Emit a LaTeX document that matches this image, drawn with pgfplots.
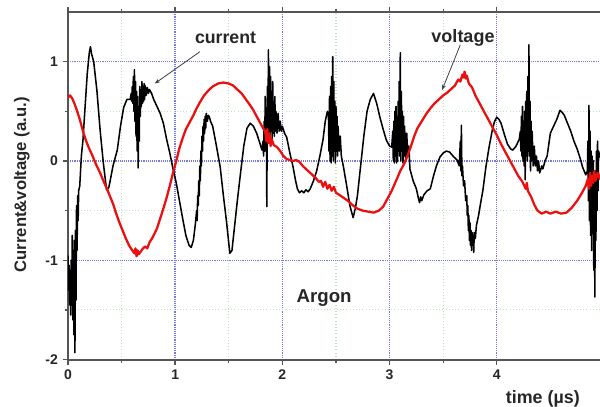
\documentclass[border=0pt]{standalone}
\usepackage{fontspec}
\setmainfont{Liberation Sans}
\usepackage{pgfplots}
\pgfplotsset{compat=1.18}
\usetikzlibrary{arrows.meta}

\definecolor{axisgray}{RGB}{85,85,85}
\definecolor{gridblue}{RGB}{120,120,225}
\definecolor{gridgreen}{RGB}{185,230,185}
\definecolor{vred}{RGB}{235,15,15}

% current (black)
\pgfplotstableread{
x y
0.000 -0.95
0.005 -1.30
0.010 -1.05
0.015 -1.45
0.020 -1.10
0.025 -1.55
0.030 -1.00
0.035 -1.35
0.040 -0.75
0.045 -1.60
0.050 -0.90
0.055 -1.75
0.060 -0.80
0.065 -1.93
0.070 -0.70
0.075 -1.40
0.080 -0.45
0.085 -0.90
0.090 -0.35
0.095 -0.60
0.100 -0.30
0.110 -0.25
0.125 0.05
0.140 0.21
0.160 0.55
0.180 0.88
0.200 1.10
0.210 1.15
0.220 1.08
0.240 1.00
0.270 0.71
0.300 0.31
0.330 -0.02
0.360 -0.29
0.380 -0.27
0.390 -0.22
0.420 -0.05
0.460 0.11
0.490 0.35
0.520 0.54
0.550 0.62
0.580 0.62
0.590 0.68
0.595 0.60
0.600 0.75
0.605 0.58
0.610 0.85
0.615 0.50
0.620 0.92
0.625 0.40
0.630 0.80
0.635 0.25
0.640 0.70
0.645 0.10
0.650 0.65
0.655 -0.07
0.660 0.55
0.665 0.20
0.670 0.75
0.675 0.45
0.680 0.70
0.685 0.55
0.690 0.80
0.695 0.58
0.700 0.72
0.705 0.60
0.710 0.78
0.715 0.62
0.720 0.76
0.730 0.66
0.740 0.74
0.750 0.68
0.760 0.72
0.780 0.68
0.800 0.62
0.830 0.55
0.860 0.48
0.890 0.38
0.920 0.22
0.950 0.08
0.980 -0.08
1.010 -0.22
1.040 -0.40
1.070 -0.58
1.100 -0.75
1.130 -0.85
1.150 -0.87
1.170 -0.80
1.190 -0.62
1.200 -0.50
1.205 -0.60
1.210 -0.35
1.215 -0.45
1.220 -0.20
1.225 -0.35
1.230 -0.05
1.235 -0.20
1.240 0.10
1.245 -0.05
1.250 0.25
1.255 0.10
1.260 0.35
1.265 0.20
1.270 0.42
1.275 0.28
1.280 0.45
1.285 0.33
1.290 0.48
1.300 0.40
1.310 0.46
1.320 0.44
1.330 0.40
1.350 0.35
1.380 0.18
1.420 -0.06
1.450 -0.35
1.480 -0.62
1.510 -0.93
1.530 -0.90
1.550 -0.70
1.580 -0.40
1.610 -0.12
1.640 0.15
1.670 0.33
1.700 0.38
1.730 0.35
1.760 0.28
1.790 0.18
1.810 0.11
1.820 0.20
1.825 0.05
1.830 0.40
1.835 0.10
1.840 0.65
1.845 0.15
1.850 0.50
1.855 -0.46
1.860 0.75
1.865 0.20
1.870 1.12
1.875 0.25
1.880 0.95
1.885 0.18
1.890 0.85
1.895 0.30
1.900 0.70
1.905 0.22
1.910 0.80
1.915 0.28
1.920 0.60
1.925 0.25
1.930 0.65
1.935 0.30
1.940 0.50
1.950 0.28
1.960 0.48
1.970 0.30
1.980 0.40
1.990 0.30
2.000 0.35
2.020 0.28
2.040 0.24
2.070 0.08
2.100 -0.06
2.120 -0.18
2.140 -0.28
2.160 -0.32
2.180 -0.30
2.200 -0.32
2.220 -0.29
2.240 -0.31
2.260 -0.28
2.290 -0.20
2.320 -0.10
2.350 0.05
2.380 0.22
2.400 0.40
2.420 0.50
2.430 0.45
2.435 0.10
2.440 0.65
2.445 0.00
2.450 0.75
2.455 -0.02
2.460 0.85
2.465 0.05
2.470 1.05
2.475 0.00
2.480 0.80
2.485 0.10
2.490 0.60
2.495 -0.02
2.500 0.55
2.505 0.10
2.510 0.45
2.515 0.05
2.520 0.35
2.530 0.10
2.540 0.25
2.550 0.05
2.570 -0.06
2.600 -0.25
2.630 -0.45
2.660 -0.57
2.680 -0.48
2.700 -0.35
2.730 -0.05
2.760 0.25
2.790 0.50
2.820 0.62
2.850 0.68
2.880 0.58
2.910 0.44
2.940 0.32
2.970 0.21
3.000 0.15
3.020 0.14
3.030 0.30
3.035 0.00
3.040 0.40
3.045 -0.02
3.050 0.50
3.055 0.05
3.060 0.55
3.065 -0.02
3.070 0.45
3.075 0.00
3.080 0.60
3.085 0.10
3.090 0.80
3.095 0.05
3.100 1.09
3.105 0.00
3.110 0.70
3.115 0.10
3.120 0.50
3.125 -0.02
3.130 0.45
3.135 0.05
3.140 0.35
3.150 0.00
3.160 0.28
3.170 0.05
3.180 0.15
3.190 -0.08
3.220 -0.20
3.250 -0.28
3.270 -0.38
3.280 -0.42
3.290 -0.36
3.300 -0.40
3.320 -0.34
3.350 -0.30
3.380 -0.28
3.410 -0.15
3.440 -0.04
3.470 0.04
3.500 0.08
3.530 0.10
3.560 0.09
3.600 0.04
3.630 0.01
3.650 -0.05
3.660 0.20
3.665 -0.10
3.670 0.36
3.675 -0.15
3.680 -0.05
3.690 -0.25
3.700 -0.20
3.710 -0.40
3.720 -0.35
3.725 -0.55
3.730 -0.45
3.735 -0.70
3.740 -0.55
3.745 -0.80
3.750 -0.62
3.755 -0.85
3.760 -0.70
3.765 -0.90
3.770 -0.72
3.775 -0.82
3.780 -0.75
3.785 -0.92
3.790 -0.72
3.800 -0.78
3.810 -0.65
3.830 -0.55
3.850 -0.42
3.870 -0.30
3.900 -0.05
3.930 0.15
3.960 0.32
3.980 0.40
4.000 0.44
4.020 0.42
4.040 0.38
4.070 0.27
4.100 0.17
4.130 0.12
4.150 0.11
4.180 0.15
4.210 0.22
4.220 0.30
4.225 0.10
4.230 0.45
4.235 0.05
4.240 0.55
4.245 0.00
4.250 0.40
4.255 -0.05
4.260 0.50
4.265 -0.19
4.270 0.60
4.275 0.05
4.280 0.70
4.285 0.00
4.290 0.85
4.295 0.10
4.300 1.17
4.305 0.05
4.310 0.60
4.315 -0.10
4.320 0.40
4.325 0.00
4.330 0.30
4.340 -0.05
4.350 0.15
4.360 -0.05
4.370 0.05
4.380 -0.10
4.390 0.00
4.400 -0.12
4.420 -0.05
4.430 -0.08
4.450 0.00
4.470 0.05
4.500 0.28
4.530 0.35
4.560 0.42
4.590 0.51
4.610 0.49
4.630 0.46
4.660 0.38
4.690 0.30
4.720 0.20
4.750 0.12
4.780 0.02
4.800 -0.06
4.830 -0.14
4.845 -0.10
4.850 0.20
4.855 -0.40
4.860 0.56
4.865 -0.60
4.870 0.30
4.875 -0.75
4.880 0.10
4.885 -0.90
4.890 0.05
4.895 -0.70
4.900 0.00
4.905 -1.10
4.910 -0.20
4.915 -1.37
4.920 -0.10
4.925 -0.80
4.930 0.10
4.935 -0.50
4.940 0.20
4.945 -0.30
4.950 0.10
4.960 0.05
4.980 0.02
5.000 0.00
}\current

% voltage (red)
\pgfplotstableread{
x y
0.00 0.64
0.02 0.66
0.04 0.63
0.06 0.58
0.08 0.52
0.11 0.42
0.14 0.30
0.17 0.20
0.20 0.12
0.23 0.05
0.26 -0.03
0.30 -0.12
0.33 -0.20
0.36 -0.27
0.39 -0.35
0.42 -0.43
0.45 -0.53
0.48 -0.62
0.51 -0.70
0.54 -0.78
0.57 -0.85
0.60 -0.90
0.62 -0.93
0.63 -0.88
0.64 -0.96
0.65 -0.90
0.66 -0.94
0.68 -0.91
0.70 -0.88
0.72 -0.86
0.74 -0.88
0.76 -0.82
0.79 -0.77
0.83 -0.68
0.86 -0.58
0.89 -0.48
0.92 -0.37
0.95 -0.25
0.98 -0.12
1.01 0.00
1.04 0.13
1.07 0.23
1.10 0.32
1.14 0.40
1.17 0.46
1.20 0.53
1.23 0.59
1.27 0.66
1.31 0.71
1.35 0.75
1.40 0.78
1.45 0.79
1.50 0.78
1.54 0.76
1.58 0.72
1.62 0.68
1.66 0.62
1.70 0.56
1.73 0.51
1.76 0.45
1.79 0.39
1.82 0.33
1.84 0.30
1.85 0.20
1.86 0.32
1.87 0.18
1.88 0.28
1.89 0.15
1.90 0.22
1.92 0.16
1.95 0.14
1.98 0.10
2.01 0.05
2.04 0.02
2.07 0.01
2.10 0.00
2.13 0.01
2.16 -0.01
2.19 -0.05
2.22 -0.08
2.25 -0.11
2.28 -0.14
2.31 -0.17
2.34 -0.21
2.36 -0.20
2.38 -0.26
2.40 -0.21
2.42 -0.28
2.44 -0.24
2.46 -0.30
2.48 -0.26
2.50 -0.32
2.53 -0.34
2.57 -0.37
2.61 -0.40
2.65 -0.44
2.70 -0.48
2.75 -0.50
2.80 -0.51
2.85 -0.52
2.90 -0.50
2.94 -0.46
2.98 -0.38
3.02 -0.30
3.06 -0.20
3.10 -0.10
3.14 -0.02
3.17 0.06
3.20 0.15
3.23 0.25
3.26 0.33
3.30 0.40
3.34 0.47
3.38 0.53
3.42 0.58
3.46 0.62
3.50 0.66
3.54 0.69
3.58 0.73
3.61 0.76
3.64 0.82
3.66 0.80
3.68 0.87
3.69 0.84
3.70 0.90
3.71 0.83
3.72 0.86
3.74 0.78
3.77 0.74
3.80 0.66
3.84 0.58
3.88 0.50
3.92 0.42
3.96 0.34
4.00 0.26
4.04 0.17
4.08 0.09
4.12 0.01
4.16 -0.07
4.20 -0.15
4.24 -0.21
4.27 -0.28
4.28 -0.22
4.29 -0.30
4.32 -0.36
4.35 -0.44
4.38 -0.50
4.42 -0.53
4.46 -0.51
4.50 -0.53
4.55 -0.51
4.60 -0.53
4.65 -0.52
4.70 -0.47
4.75 -0.40
4.79 -0.33
4.83 -0.25
4.85 -0.18
4.86 -0.28
4.87 -0.12
4.88 -0.25
4.89 -0.15
4.90 -0.22
4.91 -0.10
4.92 -0.20
4.94 -0.12
4.96 -0.18
4.98 -0.08
5.00 -0.12
}\voltage

\begin{document}
\begin{tikzpicture}
\begin{axis}[
    scale only axis,
    width=402pt, height=260.7pt,
    xmin=0, xmax=5,
    ymin=-2, ymax=1.5,
    clip mode=individual,
    xtick={0,1,2,3,4},
    xticklabels={0,1,2,3,4},
    ytick={-2,-1,0,1},
    yticklabels={-2,-1,0,1},
    minor tick num=1,
    tick align=outside,
    major tick length=4pt,
    minor tick length=2.5pt,
    tick style={axisgray, line width=1pt},
    tick label style={font=\bfseries\fontsize{10.5}{12}\selectfont, text=black!85},
    axis line style={axisgray, line width=1.5pt},
    grid=both,
    major grid style={gridblue, densely dotted, line width=1pt},
    minor grid style={gridgreen, dotted, line width=0.8pt},
]
\addplot[black, line width=1.15pt, line join=round] table {\current};
\addplot[vred, line width=1.7pt, line join=round] table {\voltage};

\draw[black!75, line width=0.6pt, -{Stealth[length=4pt,width=3pt]}] (axis cs:1.23,1.10) -- (axis cs:0.81,0.78);
\draw[black!75, line width=0.6pt, -{Stealth[length=4pt,width=3pt]}] (axis cs:3.66,1.17) -- (axis cs:3.49,0.715);

\node[font=\bfseries\fontsize{13.3}{15}\selectfont, text=black!85] at (axis cs:1.47,1.24) {current};
\node[font=\bfseries\fontsize{13.5}{15}\selectfont, text=black!85] at (axis cs:3.685,1.24) {voltage};
\node[font=\bfseries\fontsize{14}{16}\selectfont, text=black!85] at (axis cs:2.39,-1.38) {Argon};
\node[font=\bfseries\fontsize{13.4}{15}\selectfont, text=black!85] at (axis cs:4.43,-2.40) {time (µs)};
\node[font=\bfseries\fontsize{12.5}{14}\selectfont, text=black!85, rotate=90] at (axis cs:-0.43,-0.24) {Current\&voltage (a.u.)};

\coordinate (bbsw) at (axis cs:-0.634,-2.477);
\coordinate (bbne) at (axis cs:4.963,1.621);
\end{axis}
\pgfresetboundingbox
\path[use as bounding box] (bbsw) rectangle (bbne);
\end{tikzpicture}
\end{document}
